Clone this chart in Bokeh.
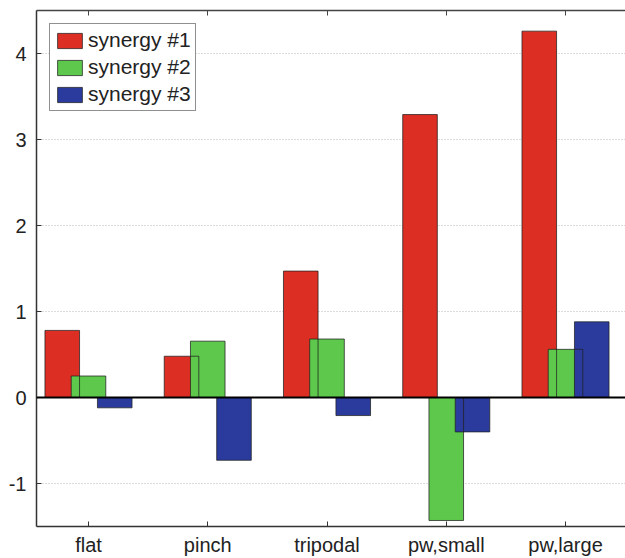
from bokeh.plotting import figure
from bokeh.models import (ColumnDataSource, FixedTicker, LinearAxis, Span,
                          Legend, LegendItem, Range1d)
from bokeh.transform import dodge
from bokeh.embed import file_html
from bokeh.resources import INLINE

categories = ["flat", "pinch", "tripodal", "pw,small", "pw,large"]
positions = [1, 2, 3, 4, 5]
synergy1 = [0.78, 0.48, 1.47, 3.29, 4.26]
synergy2 = [0.25, 0.655, 0.68, -1.43, 0.56]
synergy3 = [-0.12, -0.73, -0.21, -0.40, 0.88]
y_ticks = [-1, 0, 1, 2, 3, 4]
y_tick_labels = ["-1", "0", "1", "2", "3", "4"]

source = ColumnDataSource(dict(pos=positions, s1=synergy1, s2=synergy2, s3=synergy3))

FONT = "Liberation Sans"
p = figure(width=625, height=558,
           x_range=Range1d(0.564, 5.503), y_range=Range1d(-1.5, 4.5),
           output_backend="svg", toolbar_location=None,
           min_border_left=36, min_border_right=0,
           min_border_top=10, min_border_bottom=32)
p.outline_line_color = None
p.background_fill_color = "white"

colors = ["#dc2e22", "#5dc84b", "#2a3b9d"]
offsets = [-0.22, 0.0, 0.22]
fields = ["s1", "s2", "s3"]
labels = ["synergy #1", "synergy #2", "synergy #3"]
W = 0.29

fills = []
for f, c, o in zip(fields, colors, offsets):
    r = p.vbar(x=dodge("pos", o, range=p.x_range), top=f, bottom=0, width=W,
               source=source, fill_color=c, line_color=None)
    fills.append(r)
outs = []
for f, o in zip(fields, offsets):
    r = p.vbar(x=dodge("pos", o, range=p.x_range), top=f, bottom=0, width=W,
               source=source, fill_color=None, line_color="#222222", line_width=1,
               line_alpha=0.75)
    outs.append(r)

p.add_layout(Span(location=0, dimension="width", line_color="black", line_width=2))

# axes
p.xaxis.ticker = FixedTicker(ticks=positions)
p.xaxis.major_label_overrides = {pp: c for pp, c in zip(positions, categories)}
p.yaxis.ticker = FixedTicker(ticks=y_ticks)
p.yaxis.major_label_overrides = {t: s for t, s in zip(y_ticks, y_tick_labels)}
for ax in (p.xaxis[0], p.yaxis[0]):
    ax.major_tick_in = 5
    ax.major_tick_out = 0
    ax.minor_tick_line_color = None
    ax.axis_line_color = "#333333"
    ax.axis_line_width = 1.5
    ax.major_tick_line_color = "#333333"
    ax.major_label_text_font = FONT
    ax.major_label_text_font_size = "20px"
    ax.major_label_text_color = "#222222"
p.xaxis.major_label_standoff = 7
p.yaxis.major_label_standoff = 10

top = LinearAxis(ticker=FixedTicker(ticks=positions))
top.major_tick_in = 5
top.major_tick_out = 0
top.minor_tick_line_color = None
top.axis_line_color = "#444444"
top.axis_line_width = 1.5
top.major_tick_line_color = "#444444"
top.major_label_overrides = {pp: "" for pp in positions}
top.major_label_text_font_size = "1px"
top.major_label_standoff = 0
p.add_layout(top, "above")

p.xgrid.grid_line_color = None
p.ygrid.ticker = FixedTicker(ticks=y_ticks)
p.ygrid.grid_line_color = "#b8b8b8"
p.ygrid.grid_line_dash = "1 2"
p.ygrid.grid_line_width = 1

legend = Legend(items=[LegendItem(label=l, renderers=[fr, orr])
                       for l, fr, orr in zip(labels, fills, outs)],
                location="top_left")
legend.margin = 13
legend.padding = 4
legend.spacing = 3
legend.glyph_width = 31
legend.glyph_height = 19
legend.label_height = 20
legend.label_standoff = 3
legend.label_text_font = FONT
legend.label_text_font_size = "21px"
legend.label_text_color = "#222222"
legend.border_line_color = "#222222"
legend.border_line_width = 1.5
legend.background_fill_color = "white"
legend.background_fill_alpha = 1
p.add_layout(legend, "center")

open("out.html", "w").write(file_html(p, INLINE))
